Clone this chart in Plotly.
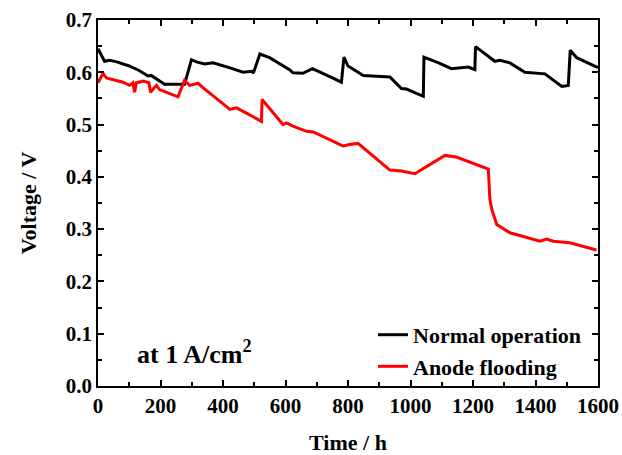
import plotly.graph_objects as go

normal_h = [0, 10, 21, 37, 60, 100, 133, 160, 170, 213, 277, 299, 315, 341, 368, 420, 464, 493, 497,
            518, 549, 613, 624, 656, 686, 740, 779, 787, 800, 849, 934, 971, 987, 1041, 1043, 1090,
            1131, 1185, 1206, 1208, 1270, 1286, 1318, 1366, 1430, 1484, 1505, 1511, 1532, 1600]
normal_v = [0.645, 0.632, 0.621, 0.623, 0.620, 0.612, 0.603, 0.593, 0.594, 0.577, 0.577, 0.624, 0.620,
            0.616, 0.618, 0.609, 0.600, 0.602, 0.598, 0.635, 0.628, 0.605, 0.599, 0.598, 0.607, 0.592,
            0.581, 0.629, 0.612, 0.594, 0.591, 0.569, 0.568, 0.554, 0.629, 0.618, 0.607, 0.610, 0.605,
            0.649, 0.621, 0.623, 0.618, 0.600, 0.597, 0.573, 0.575, 0.642, 0.628, 0.609]

flood_h = [0, 16, 27, 80, 101, 112, 117, 123, 144, 163, 168, 187, 197, 256, 277, 293, 320, 333, 422,
           443, 475, 523, 525, 550, 592, 603, 624, 667, 689, 763, 784, 805, 832, 934, 971, 1014, 1110,
           1147, 1249, 1254, 1260, 1276, 1318, 1361, 1414, 1436, 1457, 1510, 1595]
flood_v = [0.580, 0.598, 0.589, 0.581, 0.575, 0.580, 0.562, 0.580, 0.583, 0.580, 0.562, 0.575, 0.567,
           0.553, 0.585, 0.575, 0.579, 0.572, 0.529, 0.532, 0.522, 0.506, 0.548, 0.530, 0.500, 0.503,
           0.497, 0.487, 0.486, 0.465, 0.459, 0.462, 0.464, 0.413, 0.411, 0.406, 0.441, 0.438, 0.415,
           0.357, 0.338, 0.309, 0.293, 0.286, 0.277, 0.281, 0.277, 0.274, 0.260]

x_ticks = [0, 200, 400, 600, 800, 1000, 1200, 1400, 1600]
y_ticks = [0.0, 0.1, 0.2, 0.3, 0.4, 0.5, 0.6, 0.7]

FONT = "Liberation Serif, Times New Roman, DejaVu Serif, serif"

fig = go.Figure()
fig.add_trace(go.Scatter(x=normal_h, y=normal_v, mode="lines", name="<b>Normal operation</b>",
                         line=dict(color="#000000", width=3)))
fig.add_trace(go.Scatter(x=flood_h, y=flood_v, mode="lines", name="<b>Anode flooding</b>",
                         line=dict(color="#ff0000", width=3)))

axis_common = dict(
    showgrid=False, zeroline=False, showline=True, linecolor="black", linewidth=1.5,
    mirror="ticks", ticks="inside", ticklen=6, tickwidth=1.5, tickcolor="black",
    automargin=False,
    tickfont=dict(family=FONT, size=21, color="black"),
)

fig.update_xaxes(range=[0, 1600], tickvals=x_ticks, ticktext=[f"<b>{v}</b>" for v in x_ticks],
                 minor=dict(dtick=100, ticks="inside", ticklen=4, tickwidth=1.5, tickcolor="black"),
                 title=dict(text="<b>Time / h</b>", standoff=24,
                            font=dict(family=FONT, size=22, color="black")),
                 **axis_common)
fig.update_yaxes(range=[0, 0.7], tickvals=y_ticks, ticktext=[f"<b>{v:.1f}</b>" for v in y_ticks],
                 minor=dict(dtick=0.05, ticks="inside", ticklen=4, tickwidth=1.5, tickcolor="black"),
                 title=dict(text="<b>Voltage / V</b>", standoff=23,
                            font=dict(family=FONT, size=22, color="black")),
                 **axis_common)

fig.add_annotation(text="<b>at 1 A/cm<sup>2</sup></b>", xref="x domain", yref="y domain",
                   x=0.073, y=0.092, xanchor="left", yanchor="middle", showarrow=False,
                   font=dict(family=FONT, size=26, color="black"))

fig.update_layout(
    width=622, height=455,
    margin=dict(l=98, r=24, t=20, b=69, autoexpand=False),
    paper_bgcolor="white", plot_bgcolor="white",
    showlegend=True,
    legend=dict(x=0.55, y=0.197, xanchor="left", yanchor="top", bgcolor="rgba(0,0,0,0)",
                font=dict(family=FONT, size=22, color="black"),
                tracegroupgap=0, itemwidth=30),
)

fig.write_html("out.html", config={"displayModeBar": False},
               post_script="document.body.style.margin='0';document.body.style.padding='0';")
